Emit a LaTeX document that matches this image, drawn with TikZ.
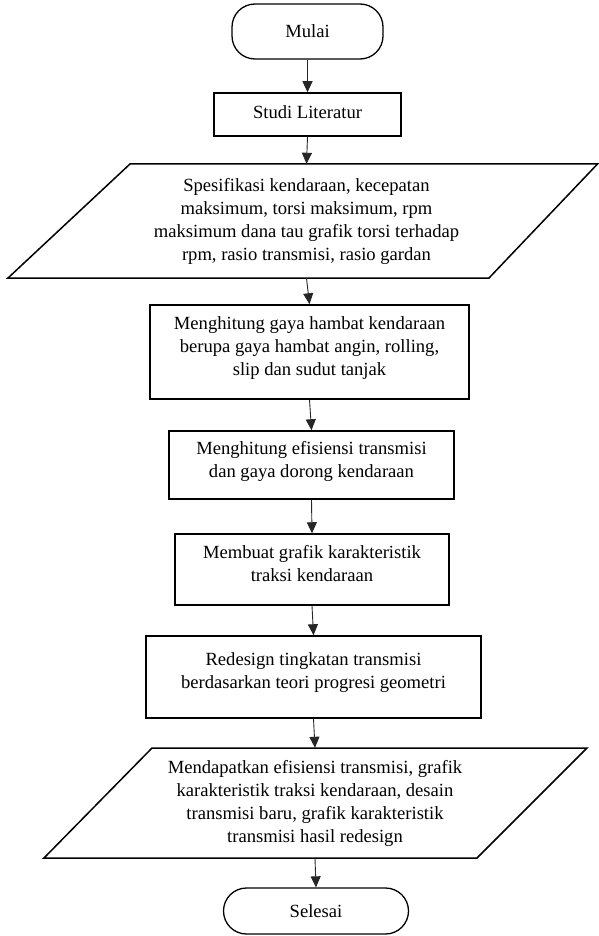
\documentclass[tikz,border=0pt]{standalone}
\usepackage{fontspec}
\setmainfont{Liberation Serif}
\usetikzlibrary{arrows.meta}

\begin{document}
\begin{tikzpicture}[x=1pt, y=-1pt,
  every node/.style={font=\fontsize{18.6}{23}\selectfont, align=center, inner sep=0pt},
  terminal/.style={draw, line width=1.3pt, rounded corners=23pt},
  proses/.style={draw, line width=1.5pt, text depth=12pt},
  garis/.style={line width=1.5pt, line join=miter},
  panah/.style={-{Triangle[width=10pt,length=11pt]}, line width=0.9pt, black!85}]

\useasboundingbox (0,0) rectangle (599,936);

% Mulai
\node[terminal, minimum width=151, minimum height=55] (mulai) at (307.5,31.5) {Mulai};

% Studi literatur
\node[proses, text depth=5pt, minimum width=187, minimum height=43] (studi) at (307.5,114.5) {Studi Literatur};

% Data input (parallelogram)
\draw[garis] (130,164) -- (597.5,164) -- (489,278) -- (8,278) -- cycle;
\node[minimum width=470, minimum height=114] (spek) at (306.5,221) {Spesifikasi kendaraan, kecepatan\\ maksimum, torsi maksimum, rpm\\ maksimum dana tau grafik torsi terhadap\\ rpm, rasio transmisi, rasio gardan};

% Proses perhitungan
\node[proses, minimum width=319, minimum height=94] (hambat) at (309.5,352) {Menghitung gaya hambat kendaraan\\ berupa gaya hambat angin, rolling,\\ slip dan sudut tanjak};
\node[proses, minimum width=285, minimum height=68] (efisiensi) at (311.5,465) {Menghitung efisiensi transmisi\\ dan gaya dorong kendaraan};
\node[proses, minimum width=274, minimum height=71] (grafik) at (312,569.5) {Membuat grafik karakteristik\\ traksi kendaraan};
\node[proses, minimum width=335, minimum height=82] (redesign) at (313.5,677) {Redesign tingkatan transmisi\\ berdasarkan teori progresi geometri};

% Hasil (parallelogram)
\draw[garis] (152,748) -- (587,748) -- (477,858) -- (44,858) -- cycle;
\node[minimum width=435, minimum height=110] (hasil) at (315,803) {Mendapatkan efisiensi transmisi, grafik\\ karakteristik traksi kendaraan, desain\\ transmisi baru, grafik karakteristik\\ transmisi hasil redesign};

% Selesai
\node[terminal, minimum width=185, minimum height=46] (selesai) at (316,911) {Selesai};

% Arrows
\draw[panah] (mulai.south) -- (studi.north);
\draw[panah] (studi.south) -- (spek.north);
\draw[panah] (spek.south) -- (hambat.north);
\draw[panah] (hambat.south) -- (efisiensi.north);
\draw[panah] (efisiensi.south) -- (grafik.north);
\draw[panah] (grafik.south) -- (redesign.north);
\draw[panah] (redesign.south) -- (hasil.north);
\draw[panah] (hasil.south) -- (selesai.north);

\end{tikzpicture}
\end{document}
